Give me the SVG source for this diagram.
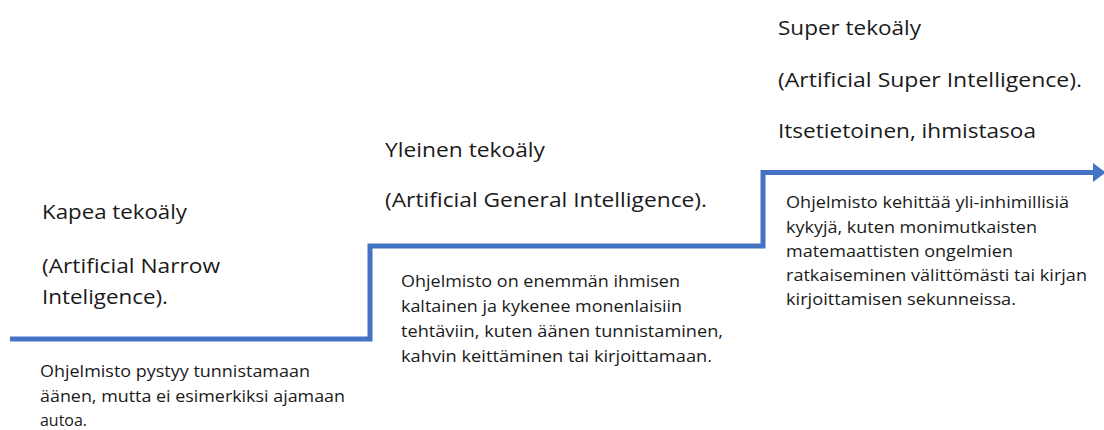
<svg xmlns="http://www.w3.org/2000/svg" width="1104" height="430" viewBox="0 0 1104 430">
  <style>
    .bg { fill: #ffffff; }
    .head { font-family: "Open Sans", "Noto Sans", "Liberation Sans", sans-serif; font-size: 20.5px; fill: #1a1a1a; }
    .desc { font-family: "Open Sans", "Noto Sans", "Liberation Sans", sans-serif; font-size: 16.8px; fill: #1a1a1a; }
    .step { fill: none; stroke: #4472C4; stroke-width: 5; stroke-linejoin: miter; stroke-linecap: butt; }
  </style>
  <defs>
    <marker id="arrowhead" markerUnits="userSpaceOnUse" markerWidth="13" markerHeight="20" refX="0" refY="9.5" orient="auto">
      <path d="M0,0 L12.5,9.5 L0,19 Z" fill="#4472C4"/>
    </marker>
  </defs>

  <rect class="bg" x="0" y="0" width="1104" height="430"/>

  <!-- rising staircase line -->
  <g id="connectors">
    <path class="step" d="M10,339 H370 V246 H763 V172.5 H1093" marker-end="url(#arrowhead)"/>
  </g>

  <!-- level 1: narrow AI -->
  <g id="narrow-ai">
    <text class="head" x="42" y="219" textLength="145" lengthAdjust="spacingAndGlyphs">Kapea tekoäly</text>
    <text class="head" x="42" y="273" textLength="178" lengthAdjust="spacingAndGlyphs">(Artificial Narrow</text>
    <text class="head" x="42" y="304" textLength="126" lengthAdjust="spacingAndGlyphs">Inteligence).</text>
    <text class="desc" x="40" y="377" textLength="270" lengthAdjust="spacingAndGlyphs">Ohjelmisto pystyy tunnistamaan</text>
    <text class="desc" x="40" y="402" textLength="305" lengthAdjust="spacingAndGlyphs">äänen, mutta ei esimerkiksi ajamaan</text>
    <text class="desc" x="40" y="426" textLength="47" lengthAdjust="spacingAndGlyphs">autoa.</text>
  </g>

  <!-- level 2: general AI -->
  <g id="general-ai">
    <text class="head" x="385" y="157" textLength="160" lengthAdjust="spacingAndGlyphs">Yleinen tekoäly</text>
    <text class="head" x="385" y="207" textLength="322" lengthAdjust="spacingAndGlyphs">(Artificial General Intelligence).</text>
    <text class="desc" x="401" y="287" textLength="279" lengthAdjust="spacingAndGlyphs">Ohjelmisto on enemmän ihmisen</text>
    <text class="desc" x="401" y="312" textLength="281" lengthAdjust="spacingAndGlyphs">kaltainen ja kykenee monenlaisiin</text>
    <text class="desc" x="401" y="337" textLength="322" lengthAdjust="spacingAndGlyphs">tehtäviin, kuten äänen tunnistaminen,</text>
    <text class="desc" x="401" y="362" textLength="311" lengthAdjust="spacingAndGlyphs">kahvin keittäminen tai kirjoittamaan.</text>
  </g>

  <!-- level 3: super AI -->
  <g id="super-ai">
    <text class="head" x="778" y="35" textLength="143" lengthAdjust="spacingAndGlyphs">Super tekoäly</text>
    <text class="head" x="778" y="87" textLength="304" lengthAdjust="spacingAndGlyphs">(Artificial Super Intelligence).</text>
    <text class="head" x="778" y="138" textLength="258" lengthAdjust="spacingAndGlyphs">Itsetietoinen, ihmistasoa</text>
    <text class="desc" x="786" y="208" textLength="283" lengthAdjust="spacingAndGlyphs">Ohjelmisto kehittää yli-inhimillisiä</text>
    <text class="desc" x="786" y="233" textLength="251" lengthAdjust="spacingAndGlyphs">kykyjä, kuten monimutkaisten</text>
    <text class="desc" x="786" y="257" textLength="227" lengthAdjust="spacingAndGlyphs">matemaattisten ongelmien</text>
    <text class="desc" x="786" y="281" textLength="301" lengthAdjust="spacingAndGlyphs">ratkaiseminen välittömästi tai kirjan</text>
    <text class="desc" x="786" y="305" textLength="230" lengthAdjust="spacingAndGlyphs">kirjoittamisen sekunneissa.</text>
  </g>
</svg>
